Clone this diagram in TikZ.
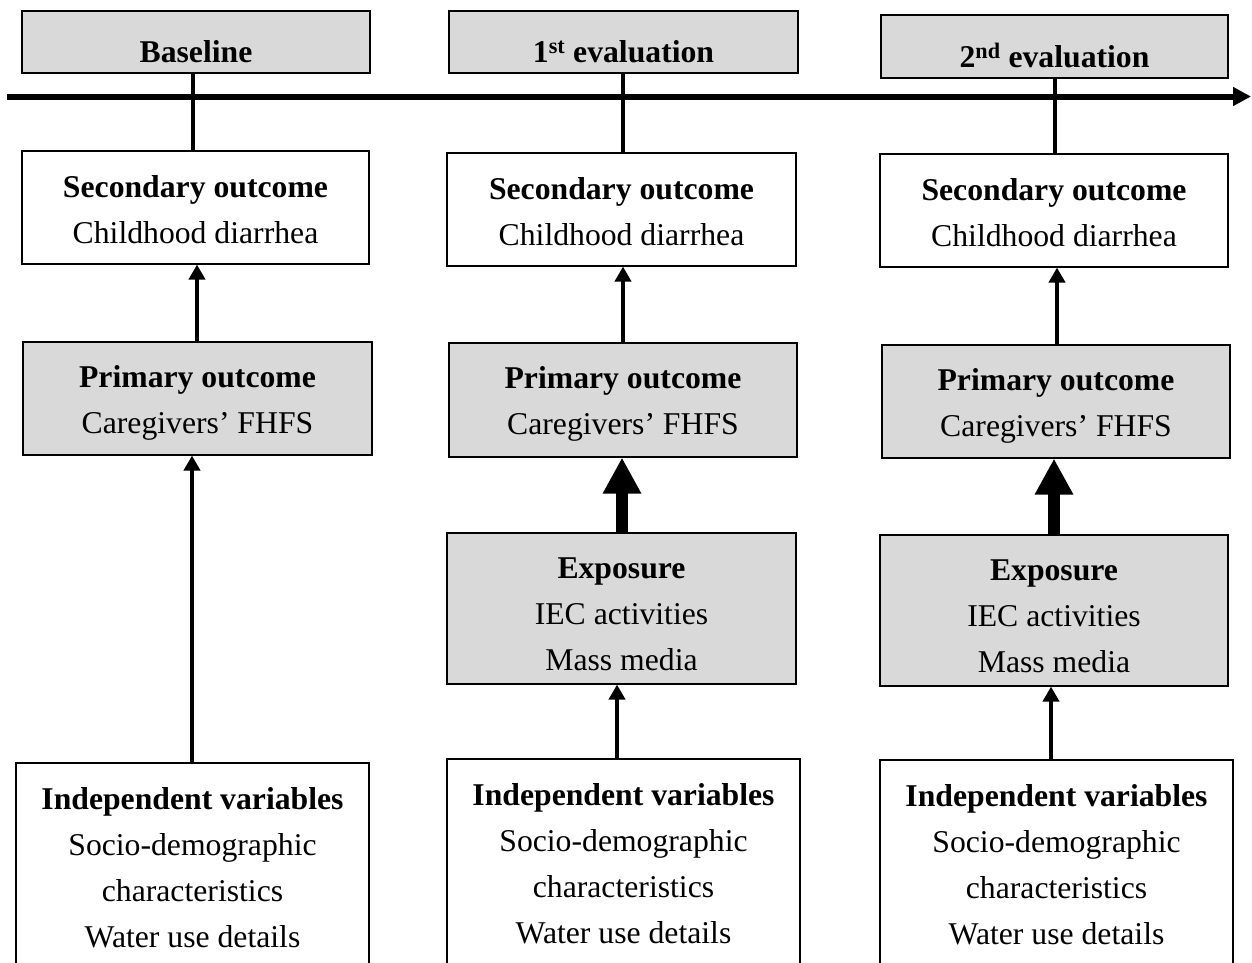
\documentclass[tikz,border=0pt]{standalone}
\usepackage{fontspec}
\setmainfont{Liberation Serif}
\usetikzlibrary{arrows.meta}
\definecolor{boxgray}{HTML}{D9D9D9}
\newcommand{\toplift}[1]{\rule{0pt}{#1}}
\begin{document}
\begin{tikzpicture}[x=1pt,y=-1pt,
  boxbase/.style={draw=black, line width=1.1pt, inner sep=0pt},
  hdr/.style={boxbase, fill=boxgray, font=\fontsize{31.7}{46}\selectfont\bfseries,
    text height=41.5pt, text depth=0pt, minimum height=62pt},
  wbox/.style={boxbase, fill=white, align=center, font=\fontsize{31.7}{46}\selectfont},
  gbox/.style={wbox, fill=boxgray},
  thinarrow/.style={line width=4pt, -{Triangle[width=16pt,length=15pt]}},
  thickarrow/.style={line width=12pt, -{Triangle[width=36pt,length=36pt]}},
  stem/.style={line width=4pt}]
\useasboundingbox (0,0) rectangle (1252,962);
\clip (0,0) rectangle (1252,962);

% timeline
\coordinate (tl0) at (7,96.5);
\coordinate (tl1) at (1251,96.5);
\draw[line width=6pt, -{Triangle[width=18pt,length=18pt]}] (tl0) -- (tl1);

% headers
\node[hdr, minimum width=348pt] (h1) at (196,42) {Baseline};
\node[hdr, minimum width=349pt] (h2) at (623.5,42) {1\textsuperscript{st} evaluation};
\node[hdr, minimum width=347pt, minimum height=63pt] (h3) at (1054.5,46.5) {2\textsuperscript{nd} evaluation};

% secondary outcome
\node[wbox, minimum width=347pt, minimum height=113pt] (s1) at (195.5,207.5) {\toplift{26pt}\textbf{Secondary outcome}\\Childhood diarrhea};
\node[wbox, minimum width=349pt, minimum height=113pt] (s2) at (621.5,209.5) {\toplift{26pt}\textbf{Secondary outcome}\\Childhood diarrhea};
\node[wbox, minimum width=348pt, minimum height=113pt] (s3) at (1054,210.5) {\toplift{26pt}\textbf{Secondary outcome}\\Childhood diarrhea};

% primary outcome
\node[gbox, minimum width=349pt, minimum height=113pt] (p1) at (197.5,398.5) {\toplift{30pt}\textbf{Primary outcome}\\Caregivers’ FHFS};
\node[gbox, minimum width=348pt, minimum height=114pt] (p2) at (623,400) {\toplift{30pt}\textbf{Primary outcome}\\Caregivers’ FHFS};
\node[gbox, minimum width=348pt, minimum height=113pt] (p3) at (1056,401.5) {\toplift{30pt}\textbf{Primary outcome}\\Caregivers’ FHFS};

% exposure
\node[gbox, minimum width=349pt, minimum height=151pt] (e2) at (621.5,608.5) {\toplift{33pt}\textbf{Exposure}\\IEC activities\\Mass media};
\node[gbox, minimum width=348pt, minimum height=151pt] (e3) at (1054,610.5) {\toplift{33pt}\textbf{Exposure}\\IEC activities\\Mass media};

% independent variables
\node[wbox, minimum width=353pt, minimum height=205pt] (i1) at (192.5,865.5) {\toplift{26pt}\textbf{Independent variables}\\Socio-demographic\\characteristics\\Water use details};
\node[wbox, minimum width=353pt, minimum height=206pt] (i2) at (623.5,862) {\toplift{26pt}\textbf{Independent variables}\\Socio-demographic\\characteristics\\Water use details};
\node[wbox, minimum width=353pt, minimum height=206pt] (i3) at (1056.5,863) {\toplift{26pt}\textbf{Independent variables}\\Socio-demographic\\characteristics\\Water use details};

% stems from headers
\draw[stem] ([xshift=-3pt]h1.south) -- ([xshift=-3pt]h1.south |- s1.north);
\draw[stem] ([xshift=-0.5pt]h2.south) -- ([xshift=-0.5pt]h2.south |- s2.north);
\draw[stem] ([xshift=0.5pt]h3.south) -- ([xshift=0.5pt]h3.south |- s3.north);

% primary -> secondary
\draw[thinarrow] ([xshift=-0.5pt]p1.north) -- ([xshift=-0.5pt]p1.north |- s1.south);
\draw[thinarrow] (p2.north) -- (p2.north |- s2.south);
\draw[thinarrow] ([xshift=1pt]p3.north) -- ([xshift=1pt]p3.north |- s3.south);

% independent -> primary (baseline)
\draw[thinarrow] ([xshift=-0.5pt]i1.north) -- ([xshift=-0.5pt]i1.north |- p1.south);

% exposure -> primary
\draw[thickarrow] ([xshift=0.5pt]e2.north) -- ([xshift=0.5pt]e2.north |- p2.south);
\draw[thickarrow] (e3.north) -- (e3.north |- p3.south);

% independent -> exposure
\draw[thinarrow] ([xshift=-6.5pt]i2.north) -- ([xshift=-6.5pt]i2.north |- e2.south);
\draw[thinarrow] ([xshift=-5.5pt]i3.north) -- ([xshift=-5.5pt]i3.north |- e3.south);
\end{tikzpicture}
\end{document}
